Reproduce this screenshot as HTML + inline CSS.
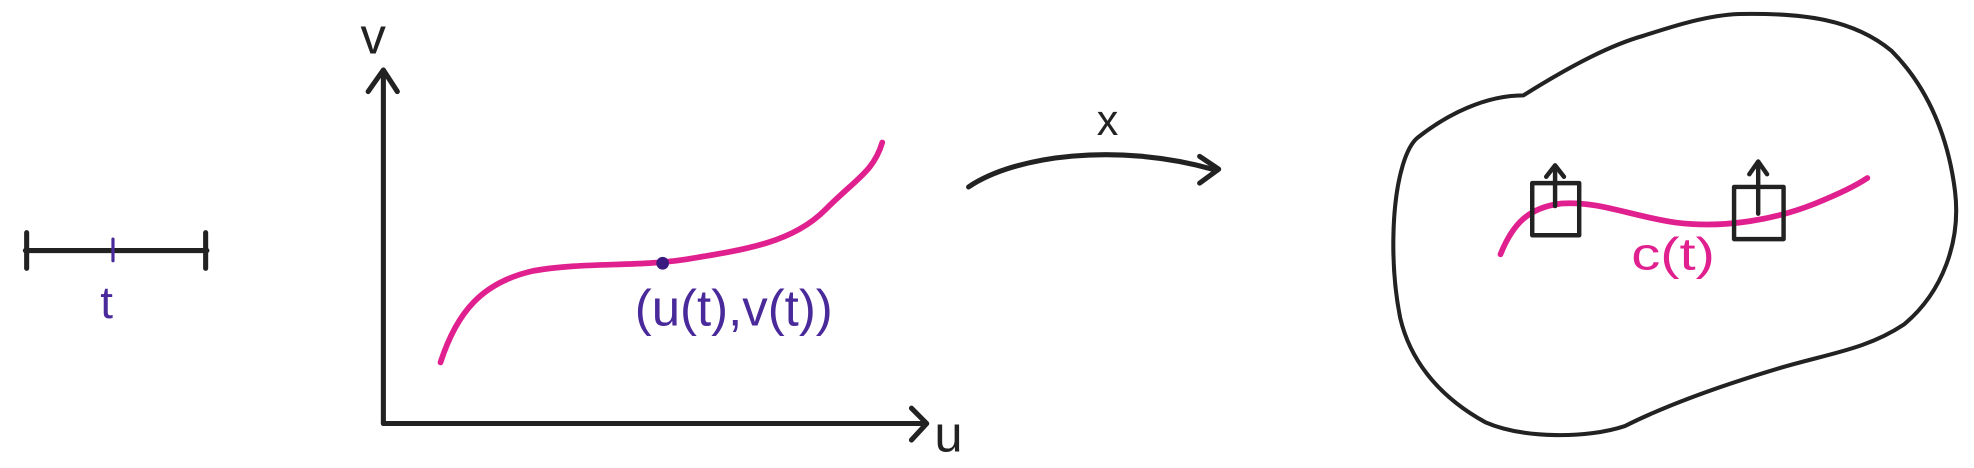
<!DOCTYPE html>
<html><head><meta charset="utf-8"><style>
html,body{margin:0;padding:0;background:#fff;}
svg{display:block;}
text{font-family:"Liberation Sans",sans-serif;}
</style></head><body>
<svg width="1974" height="468" viewBox="0 0 1555 368" preserveAspectRatio="none" xmlns="http://www.w3.org/2000/svg">
<rect width="1555" height="368" fill="#fff"/>
<g stroke="#222" stroke-width="4" stroke-linecap="round" fill="none">
  <line x1="20" y1="197" x2="163" y2="197"/>
  <line x1="21" y1="183" x2="21" y2="211"/>
  <line x1="162" y1="183" x2="162" y2="211"/>
  <line x1="89" y1="188" x2="89" y2="205" stroke="#4a2a9a" stroke-width="2.5"/>
</g>
<text x="79" y="250" font-size="36" fill="#4a2a9a">t</text>

<g stroke="#222" stroke-width="4" stroke-linecap="round" stroke-linejoin="round" fill="none">
  <line x1="302" y1="56" x2="302" y2="333"/>
  <polyline points="290,72 302,55 313,72"/>
  <line x1="302" y1="333" x2="728" y2="333"/>
  <polyline points="718,321 730,333 718,346"/>
</g>
<text x="284" y="42" font-size="40" fill="#222">v</text>
<text x="736" y="355" font-size="40" fill="#222">u</text>

<path d="M347,285 C360,245 380,222 420,213 C460,206 500,210 540,204 C590,196 625,190 650,165 C675,140 688,135 695,112" stroke="#e0208f" stroke-width="4.5" fill="none" stroke-linecap="round"/>
<circle cx="522" cy="207" r="5" fill="#3a1a80"/>
<text x="500" y="256" font-size="40" textLength="156" lengthAdjust="spacingAndGlyphs" fill="#4a2a9a">(u(t),v(t))</text>

<g stroke="#222" stroke-width="4" stroke-linecap="round" stroke-linejoin="round" fill="none">
  <path d="M763,147 C800,122 880,112 955,133"/>
  <polyline points="945,123 960,133 945,144"/>
</g>
<text x="864" y="106" font-size="34" fill="#222">x</text>

<path d="M1117,108 C1140,90 1170,75 1200,75 C1240,50 1270,35 1295,28 C1320,20 1345,12 1370,11 C1420,10 1460,15 1490,40 C1520,70 1535,110 1540,150 C1545,190 1530,230 1500,255 C1470,275 1440,278 1400,290 C1350,305 1310,320 1280,335 C1250,345 1200,345 1170,332 C1130,310 1110,280 1103,250 C1095,210 1096,160 1105,130 C1108,120 1112,112 1117,108 Z" stroke="#222" stroke-width="3.2" fill="none"/>

<path d="M1182,200 C1192,175 1205,163 1230,160 C1260,158 1285,170 1320,175 C1360,180 1400,172 1430,160 C1450,152 1462,146 1471,140" stroke="#e0208f" stroke-width="4.5" fill="none" stroke-linecap="round"/>
<g stroke="#222" stroke-width="3.5" stroke-linecap="round" stroke-linejoin="round" fill="none">
  <rect x="1207" y="144" width="37" height="41"/>
  <line x1="1225" y1="162" x2="1225" y2="131"/>
  <polyline points="1218,139 1225,130 1232,139"/>
</g>
<g stroke="#222" stroke-width="3.5" stroke-linecap="round" stroke-linejoin="round" fill="none">
  <rect x="1366" y="147" width="39" height="41"/>
  <line x1="1385" y1="168" x2="1385" y2="128"/>
  <polyline points="1378,137 1385,127 1392,137"/>
</g>
<text x="1285" y="212" font-size="36" textLength="66" lengthAdjust="spacingAndGlyphs" fill="#e0208f">c(t)</text>
</svg>
</body></html>
